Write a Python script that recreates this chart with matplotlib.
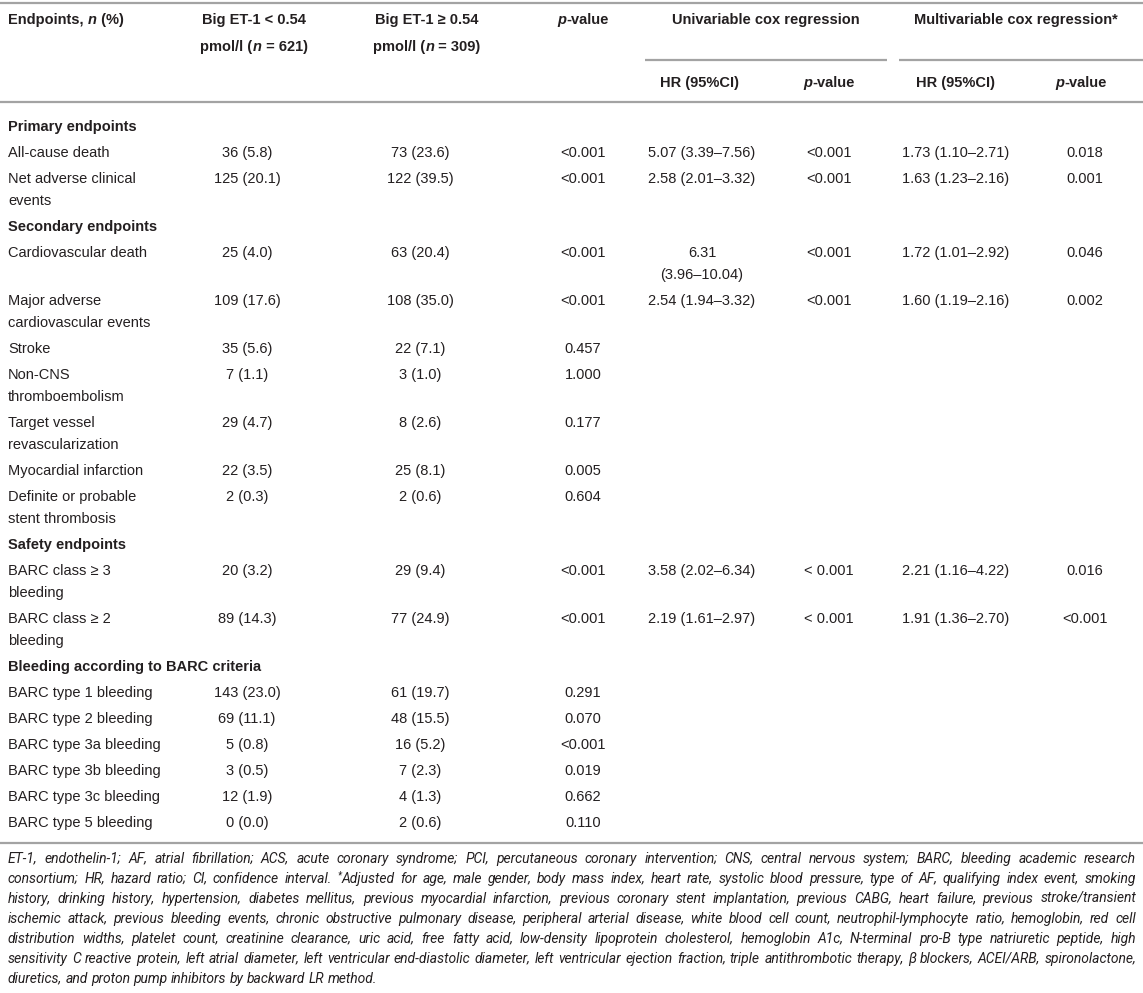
import math
import matplotlib
matplotlib.use("Agg")
import matplotlib.pyplot as plt
from matplotlib import font_manager
from matplotlib.backends.backend_agg import get_hinting_flag

# table content
section_names = ["Primary endpoints", "Secondary endpoints", "Safety endpoints",
                 "Bleeding according to BARC criteria"]
endpoint_section = [0, 0, 1, 1, 1, 1, 1, 1, 1, 2, 2, 3, 3, 3, 3, 3, 3]
endpoint_labels = ["All-cause death", "Net adverse clinical\nevents", "Cardiovascular death",
                   "Major adverse\ncardiovascular events", "Stroke", "Non-CNS\nthromboembolism",
                   "Target vessel\nrevascularization", "Myocardial infarction",
                   "Definite or probable\nstent thrombosis", "BARC class \u2265 3\nbleeding",
                   "BARC class \u2265 2\nbleeding", "BARC type 1 bleeding", "BARC type 2 bleeding",
                   "BARC type 3a bleeding", "BARC type 3b bleeding", "BARC type 3c bleeding",
                   "BARC type 5 bleeding"]
low_et1 = ["36 (5.8)", "125 (20.1)", "25 (4.0)", "109 (17.6)", "35 (5.6)", "7 (1.1)", "29 (4.7)",
           "22 (3.5)", "2 (0.3)", "20 (3.2)", "89 (14.3)", "143 (23.0)", "69 (11.1)", "5 (0.8)",
           "3 (0.5)", "12 (1.9)", "0 (0.0)"]
high_et1 = ["73 (23.6)", "122 (39.5)", "63 (20.4)", "108 (35.0)", "22 (7.1)", "3 (1.0)", "8 (2.6)",
            "25 (8.1)", "2 (0.6)", "29 (9.4)", "77 (24.9)", "61 (19.7)", "48 (15.5)", "16 (5.2)",
            "7 (2.3)", "4 (1.3)", "2 (0.6)"]
p_group = ["<0.001", "<0.001", "<0.001", "<0.001", "0.457", "1.000", "0.177", "0.005", "0.604",
           "<0.001", "<0.001", "0.291", "0.070", "<0.001", "0.019", "0.662", "0.110"]
uni_hr = ["5.07 (3.39\u20137.56)", "2.58 (2.01\u20133.32)", "6.31\n(3.96\u201310.04)",
          "2.54 (1.94\u20133.32)", "", "", "", "", "", "3.58 (2.02\u20136.34)",
          "2.19 (1.61\u20132.97)", "", "", "", "", "", ""]
uni_p = ["<0.001", "<0.001", "<0.001", "<0.001", "", "", "", "", "", "< 0.001", "< 0.001",
         "", "", "", "", "", ""]
multi_hr = ["1.73 (1.10\u20132.71)", "1.63 (1.23\u20132.16)", "1.72 (1.01\u20132.92)",
            "1.60 (1.19\u20132.16)", "", "", "", "", "", "2.21 (1.16\u20134.22)",
            "1.91 (1.36\u20132.70)", "", "", "", "", "", ""]
multi_p = ["0.018", "0.001", "0.046", "0.002", "", "", "", "", "", "0.016", "<0.001",
           "", "", "", "", "", ""]

note_lines = [
    "ET-1, endothelin-1; AF, atrial fibrillation; ACS, acute coronary syndrome; PCI, percutaneous coronary intervention; CNS, central nervous system; BARC, bleeding academic research",
    "consortium; HR, hazard ratio; CI, confidence interval. ^*Adjusted for age, male gender, body mass index, heart rate, systolic blood pressure, type of AF, qualifying index event, smoking",
    "history, drinking history, hypertension, diabetes mellitus, previous myocardial infarction, previous coronary stent implantation, previous CABG, heart failure, previous stroke/transient",
    "ischemic attack, previous bleeding events, chronic obstructive pulmonary disease, peripheral arterial disease, white blood cell count, neutrophil-lymphocyte ratio, hemoglobin, red cell",
    "distribution widths, platelet count, creatinine clearance, uric acid, free fatty acid, low-density lipoprotein cholesterol, hemoglobin A1c, N-terminal pro-B type natriuretic peptide, high",
    "sensitivity C reactive protein, left atrial diameter, left ventricular end-diastolic diameter, left ventricular ejection fraction, triple antithrombotic therapy, \u03b2 blockers, ACEI/ARB, spironolactone,",
    "diuretics, and proton pump inhibitors by backward LR method.",
]

FONT = "Liberation Sans"
NOTE_FONT = FONT
for cand in ["Liberation Sans Narrow", "Roboto"]:
    try:
        font_manager.findfont(font_manager.FontProperties(family=cand, style="italic"),
                              fallback_to_default=False)
        NOTE_FONT = cand
        break
    except Exception:
        pass
INK = "#231f20"
RULE = "#a3a3a3"
FS = 10.5
W, H = 1143, 993

fig = plt.figure(figsize=(W / 100, H / 100), dpi=100)
ax = fig.add_axes([0, 0, 1, 1])
ax.set_xlim(0, W)
ax.set_ylim(H, 0)
ax.axis("off")
renderer = fig.canvas.get_renderer()

_cache = {}


def width(s, size=FS, weight="normal", style="normal", family=FONT):
    key = (s, size, weight, style, family)
    if key not in _cache:
        kw = dict(fontsize=size, fontweight=weight, fontstyle=style, family=family)
        t = ax.text(0, 0, "|" + s + "|", **kw)
        w1 = t.get_window_extent(renderer).width
        t.remove()
        t = ax.text(0, 0, "||", **kw)
        w0 = t.get_window_extent(renderer).width
        t.remove()
        _cache[key] = w1 - w0
    return _cache[key]


def baseline_err(s, size, style, family, yb):
    # how many pixels Agg's rounding will move this word's baseline off yb
    try:
        prop = font_manager.FontProperties(family=family, style=style, size=size)
        ft = font_manager.get_font(font_manager.findfont(prop))
        ft.clear()
        ft.set_size(size, 100)
        ft.set_text(s, 0, flags=get_hinting_flag())
        dd = ft.get_descent()
        hh = ft.get_width_height()[1]
        a = (hh - dd) / 64.0
        d = dd / 64.0
        return (round(yb + d) - yb) + math.floor(a) - int(hh // 64)
    except Exception:
        return 0


def put(x, y, s, ha="left", size=FS, weight="normal", style="normal", family=FONT, fix=False):
    # y is the visual middle of the line, baseline sits a bit lower
    base = y + size * 0.48
    if fix:
        base = round(base)
        base -= baseline_err(s, size, style, family, base)
    ax.text(x, base, s, ha=ha, va="baseline", fontsize=size,
            fontweight=weight, fontstyle=style, family=family, color=INK)


def rich(x, y, parts, ha="left", size=FS):
    total = sum(width(s, size, wt, st) for s, wt, st in parts)
    if ha == "center":
        x -= total / 2
    for s, wt, st in parts:
        put(x, y, s, size=size, weight=wt, style=st)
        x += width(s, size, wt, st)


def hline(y, x0=0, x1=W):
    ax.plot([x0, x1], [y, y], color=RULE, lw=1.6, solid_capstyle="butt")


# column positions (pixels)
X_LABEL = 8
X_LOW, X_HIGH, X_P = 247, 420, 583
X_UHR, X_UP, X_MHR, X_MP = 702, 829, 956, 1085
LINE_GAP = 22

# rules
hline(3)
hline(60, 645, 887)
hline(60, 899, W)
hline(102)
hline(843)

# header
B, N, I = "bold", "normal", "italic"
rich(X_LABEL, 19, [("Endpoints, ", B, N), ("n", B, I), (" (%)", B, N)])
rich(X_LOW + 7, 19, [("Big ET-1 < 0.54", B, N)], ha="center")
rich(X_LOW + 7, 46, [("pmol/l (", B, N), ("n", B, I), (" = 621)", B, N)], ha="center")
rich(X_HIGH + 7, 19, [("Big ET-1 \u2265 0.54", B, N)], ha="center")
rich(X_HIGH + 7, 46, [("pmol/l (", B, N), ("n", B, I), (" = 309)", B, N)], ha="center")
rich(X_P, 19, [("p", B, I), ("-value", B, N)], ha="center")
rich(766, 19, [("Univariable cox regression", B, N)], ha="center")
rich(1016, 19, [("Multivariable cox regression*", B, N)], ha="center")
rich(X_UHR - 3, 82, [("HR (95%CI)", B, N)], ha="center")
rich(X_UP, 82, [("p", B, I), ("-value", B, N)], ha="center")
rich(X_MHR, 82, [("HR (95%CI)", B, N)], ha="center")
rich(X_MP - 4, 82, [("p", B, I), ("-value", B, N)], ha="center")

# body
y = 126
current = -1
for i, label in enumerate(endpoint_labels):
    if endpoint_section[i] != current:
        current = endpoint_section[i]
        put(X_LABEL, y, section_names[current], weight="bold")
        y += 26
    cells = [(X_LABEL, label, "left"), (X_LOW, low_et1[i], "center"),
             (X_HIGH, high_et1[i], "center"), (X_P, p_group[i], "center"),
             (X_UHR, uni_hr[i], "center"), (X_UP, uni_p[i], "center"),
             (X_MHR, multi_hr[i], "center"), (X_MP, multi_p[i], "center")]
    nlines = 1
    for x, txt, ha in cells:
        parts = txt.split("\n")
        nlines = max(nlines, len(parts))
        for k, line in enumerate(parts):
            if line:
                put(x, y + k * LINE_GAP, line, ha=ha)
    y += 26 + (nlines - 1) * 22

# footnote, justified italic, word by word
NOTE_L, NOTE_R = 8, 1136
note_fs = 10.2


def word_w(wd, size):
    if wd.startswith("^*"):
        return (width("*", size * 0.7, "normal", "italic", NOTE_FONT)
                + width(wd[2:], size, "normal", "italic", NOTE_FONT))
    return width(wd, size, "normal", "italic", NOTE_FONT)


natural = []
for line in note_lines[:-1]:
    words = line.split(" ")
    natural.append(sum(word_w(w_, note_fs) for w_ in words)
                   + width(" ", note_fs, "normal", "italic", NOTE_FONT) * (len(words) - 1))
widest = max(natural)
if widest > NOTE_R - NOTE_L:
    note_fs *= (NOTE_R - NOTE_L) / widest * 0.99

for j, line in enumerate(note_lines):
    yy = 858 + j * 20
    words = line.split(" ")
    ws = [word_w(w_, note_fs) for w_ in words]
    if j < len(note_lines) - 1:
        gap = (NOTE_R - NOTE_L - sum(ws)) / (len(words) - 1)
    else:
        gap = width(" ", note_fs, "normal", "italic", NOTE_FONT)
    x = NOTE_L
    for wd, wdw in zip(words, ws):
        if wd.startswith("^*"):
            ax.text(x, round(yy + note_fs * 0.48) - 5, "*", fontsize=note_fs * 0.7,
                    fontstyle="italic", family=NOTE_FONT, color=INK, va="baseline")
            x2 = x + width("*", note_fs * 0.7, "normal", "italic", NOTE_FONT)
            put(x2, yy, wd[2:], size=note_fs, style="italic", family=NOTE_FONT, fix=True)
        else:
            put(x, yy, wd, size=note_fs, style="italic", family=NOTE_FONT, fix=True)
        x += wdw + gap

fig.savefig("out.png", dpi=100)
